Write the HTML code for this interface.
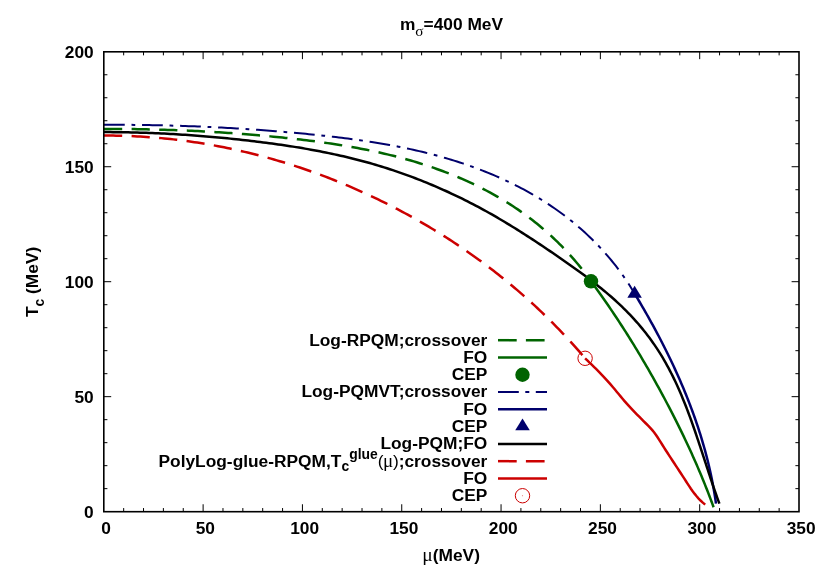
<!DOCTYPE html>
<html><head><meta charset="utf-8"><title>Tc vs mu</title>
<style>html,body{margin:0;padding:0;background:#fff;}svg{display:block;will-change:transform;}text{font-family:"Liberation Sans",sans-serif;font-weight:bold;font-size:17.33px;fill:#000;}.sym{font-family:"Liberation Serif",serif;font-weight:normal;}.s{font-size:13.9px;}</style>
</head><body>
<svg width="830" height="581" viewBox="0 0 830 581">
<rect x="0" y="0" width="830" height="581" fill="#ffffff"/>
<path d="M123.66,511.65V508.05M123.66,51.75V55.35M143.53,511.65V508.05M143.53,51.75V55.35M163.39,511.65V508.05M163.39,51.75V55.35M183.25,511.65V508.05M183.25,51.75V55.35M203.11,511.65V504.25M203.11,51.75V59.15M222.98,511.65V508.05M222.98,51.75V55.35M242.84,511.65V508.05M242.84,51.75V55.35M262.70,511.65V508.05M262.70,51.75V55.35M282.57,511.65V508.05M282.57,51.75V55.35M302.43,511.65V504.25M302.43,51.75V59.15M322.29,511.65V508.05M322.29,51.75V55.35M342.15,511.65V508.05M342.15,51.75V55.35M362.02,511.65V508.05M362.02,51.75V55.35M381.88,511.65V508.05M381.88,51.75V55.35M401.74,511.65V504.25M401.74,51.75V59.15M421.61,511.65V508.05M421.61,51.75V55.35M441.47,511.65V508.05M441.47,51.75V55.35M461.33,511.65V508.05M461.33,51.75V55.35M481.19,511.65V508.05M481.19,51.75V55.35M501.06,511.65V504.25M501.06,51.75V59.15M520.92,511.65V508.05M520.92,51.75V55.35M540.78,511.65V508.05M540.78,51.75V55.35M560.65,511.65V508.05M560.65,51.75V55.35M580.51,511.65V508.05M580.51,51.75V55.35M600.37,511.65V504.25M600.37,51.75V59.15M620.23,511.65V508.05M620.23,51.75V55.35M640.10,511.65V508.05M640.10,51.75V55.35M659.96,511.65V508.05M659.96,51.75V55.35M679.82,511.65V508.05M679.82,51.75V55.35M699.69,511.65V504.25M699.69,51.75V59.15M719.55,511.65V508.05M719.55,51.75V55.35M739.41,511.65V508.05M739.41,51.75V55.35M759.27,511.65V508.05M759.27,51.75V55.35M779.14,511.65V508.05M779.14,51.75V55.35M103.80,488.65H107.40M799.00,488.65H795.40M103.80,465.66H107.40M799.00,465.66H795.40M103.80,442.66H107.40M799.00,442.66H795.40M103.80,419.67H107.40M799.00,419.67H795.40M103.80,396.67H111.20M799.00,396.67H791.60M103.80,373.68H107.40M799.00,373.68H795.40M103.80,350.68H107.40M799.00,350.68H795.40M103.80,327.69H107.40M799.00,327.69H795.40M103.80,304.69H107.40M799.00,304.69H795.40M103.80,281.70H111.20M799.00,281.70H791.60M103.80,258.70H107.40M799.00,258.70H795.40M103.80,235.71H107.40M799.00,235.71H795.40M103.80,212.71H107.40M799.00,212.71H795.40M103.80,189.72H107.40M799.00,189.72H795.40M103.80,166.72H111.20M799.00,166.72H791.60M103.80,143.73H107.40M799.00,143.73H795.40M103.80,120.73H107.40M799.00,120.73H795.40M103.80,97.74H107.40M799.00,97.74H795.40M103.80,74.75H107.40M799.00,74.75H795.40" stroke="#000" stroke-width="1" fill="none"/>
<path d="M104.00,128.95 L107.04,128.94 L110.08,128.94 L113.12,128.95 L116.16,128.96 L119.19,128.97 L122.23,128.99 L125.26,129.02 L128.30,129.04 L131.33,129.08 L134.37,129.12 L137.40,129.16 L140.43,129.21 L143.46,129.26 L146.49,129.32 L149.52,129.39 L152.55,129.46 L155.58,129.53 L158.61,129.61 L161.63,129.69 L164.66,129.78 L167.69,129.88 L170.71,129.98 L173.74,130.09 L176.76,130.20 L179.79,130.31 L182.81,130.44 L185.83,130.56 L188.86,130.69 L191.88,130.83 L194.90,130.98 L197.92,131.12 L200.95,131.28 L203.97,131.44 L206.99,131.60 L210.01,131.77 L213.03,131.95 L216.05,132.13 L219.07,132.32 L222.09,132.51 L225.11,132.71 L228.13,132.91 L231.15,133.12 L234.17,133.34 L237.19,133.56 L240.21,133.79 L243.23,134.02 L246.25,134.26 L249.27,134.50 L252.29,134.75 L255.31,135.01 L258.32,135.27 L261.34,135.54 L264.36,135.81 L267.38,136.09 L270.40,136.38 L273.42,136.67 L276.44,136.97 L279.46,137.27 L282.48,137.58 L285.50,137.89 L288.52,138.22 L291.54,138.55 L294.56,138.88 L297.58,139.23 L300.60,139.58 L303.62,139.94 L306.64,140.30 L309.65,140.68 L312.67,141.06 L315.68,141.46 L318.70,141.86 L321.71,142.27 L324.72,142.70 L327.73,143.13 L330.73,143.57 L333.74,144.03 L336.74,144.50 L339.74,144.97 L342.74,145.46 L345.74,145.96 L348.73,146.47 L351.72,147.00 L354.71,147.54 L357.70,148.09 L360.68,148.65 L363.66,149.23 L366.64,149.82 L369.61,150.43 L372.58,151.05 L375.54,151.69 L378.51,152.34 L381.47,153.00 L384.42,153.69 L387.37,154.38 L390.32,155.10 L393.26,155.83 L396.20,156.57 L399.13,157.34 L402.06,158.12 L404.98,158.92 L407.90,159.74 L410.81,160.57 L413.72,161.42 L416.62,162.30 L419.52,163.19 L422.41,164.10 L425.30,165.03 L428.18,165.98 L431.05,166.95 L433.92,167.94 L436.78,168.95 L439.63,169.98 L442.48,171.03 L445.31,172.10 L448.14,173.19 L450.96,174.30 L453.77,175.44 L456.57,176.59 L459.37,177.77 L462.15,178.97 L464.92,180.19 L467.68,181.43 L470.43,182.69 L473.17,183.98 L475.90,185.29 L478.61,186.62 L481.32,187.97 L484.01,189.35 L486.69,190.75 L489.35,192.17 L492.01,193.62 L494.65,195.09 L497.27,196.58 L499.88,198.10 L502.48,199.64 L505.06,201.21 L507.62,202.80 L510.17,204.41 L512.71,206.05 L515.22,207.71 L517.73,209.40 L520.21,211.12 L522.68,212.86 L525.13,214.62 L527.56,216.41 L529.97,218.23 L532.37,220.06 L534.75,221.93 L537.11,223.82 L539.45,225.73 L541.77,227.67 L544.07,229.63 L546.35,231.62 L548.61,233.63 L550.85,235.67 L553.07,237.73 L555.27,239.81 L557.45,241.92 L559.61,244.05 L561.75,246.20 L563.86,248.38 L565.95,250.58 L568.02,252.81 L570.07,255.06 L572.09,257.33 L574.09,259.62 L576.07,261.94 L578.02,264.28 L579.95,266.64 L581.85,269.03 L583.73,271.44 L585.59,273.87 L587.42,276.33 L589.22,278.80 L591.00,281.30" stroke="#006400" stroke-width="2.50" fill="none" stroke-linejoin="round" stroke-dasharray="18.2,9.4"/>
<path d="M591.00,281.30 L592.82,283.77 L594.63,286.25 L596.43,288.74 L598.23,291.23 L600.01,293.73 L601.79,296.24 L603.55,298.75 L605.31,301.27 L607.06,303.79 L608.79,306.32 L610.52,308.86 L612.24,311.40 L613.96,313.95 L615.66,316.50 L617.35,319.06 L619.04,321.63 L620.72,324.20 L622.39,326.77 L624.05,329.36 L625.70,331.94 L627.34,334.54 L628.98,337.14 L630.60,339.74 L632.22,342.35 L633.83,344.96 L635.43,347.58 L637.03,350.21 L638.61,352.84 L640.19,355.47 L641.76,358.11 L643.32,360.76 L644.87,363.41 L646.42,366.06 L647.96,368.72 L649.49,371.38 L651.01,374.05 L652.52,376.73 L654.03,379.40 L655.53,382.09 L657.02,384.77 L658.50,387.47 L659.98,390.16 L661.44,392.86 L662.91,395.57 L664.36,398.28 L665.80,400.99 L667.24,403.71 L668.67,406.43 L670.09,409.15 L671.50,411.88 L672.91,414.62 L674.30,417.36 L675.69,420.10 L677.07,422.85 L678.44,425.60 L679.80,428.36 L681.15,431.12 L682.49,433.88 L683.82,436.65 L685.14,439.42 L686.45,442.20 L687.75,444.98 L689.05,447.76 L690.33,450.55 L691.60,453.35 L692.86,456.14 L694.11,458.95 L695.35,461.75 L696.58,464.56 L697.79,467.38 L699.00,470.19 L700.20,473.02 L701.38,475.84 L702.55,478.67 L703.71,481.51 L704.86,484.35 L705.99,487.19 L707.12,490.04 L708.23,492.89 L709.33,495.74 L710.42,498.60 L711.49,501.46 L712.55,504.33 L713.60,507.20" stroke="#006400" stroke-width="2.50" fill="none" stroke-linejoin="round"/>
<path d="M104.00,124.76 L107.02,124.75 L110.04,124.75 L113.06,124.75 L116.09,124.76 L119.11,124.77 L122.13,124.78 L125.15,124.80 L128.16,124.82 L131.18,124.85 L134.20,124.88 L137.22,124.91 L140.24,124.95 L143.25,124.99 L146.27,125.04 L149.29,125.09 L152.30,125.15 L155.32,125.20 L158.34,125.27 L161.35,125.34 L164.37,125.41 L167.38,125.48 L170.39,125.56 L173.41,125.65 L176.42,125.73 L179.43,125.83 L182.45,125.93 L185.46,126.03 L188.47,126.13 L191.48,126.24 L194.50,126.36 L197.51,126.48 L200.52,126.60 L203.53,126.73 L206.54,126.86 L209.55,127.00 L212.56,127.14 L215.57,127.29 L218.58,127.44 L221.59,127.59 L224.60,127.75 L227.61,127.92 L230.62,128.08 L233.63,128.26 L236.64,128.44 L239.64,128.62 L242.65,128.81 L245.66,129.00 L248.67,129.20 L251.68,129.40 L254.68,129.60 L257.69,129.82 L260.70,130.03 L263.70,130.25 L266.71,130.48 L269.72,130.71 L272.72,130.95 L275.73,131.19 L278.74,131.43 L281.74,131.68 L284.75,131.94 L287.75,132.20 L290.76,132.46 L293.76,132.73 L296.77,133.01 L299.77,133.29 L302.78,133.57 L305.78,133.86 L308.79,134.16 L311.79,134.46 L314.80,134.77 L317.80,135.08 L320.81,135.40 L323.81,135.72 L326.81,136.05 L329.82,136.39 L332.82,136.73 L335.82,137.08 L338.82,137.44 L341.82,137.81 L344.82,138.18 L347.81,138.57 L350.81,138.96 L353.80,139.36 L356.80,139.77 L359.79,140.19 L362.78,140.63 L365.77,141.07 L368.75,141.52 L371.74,141.98 L374.72,142.46 L377.70,142.94 L380.68,143.44 L383.65,143.95 L386.62,144.48 L389.59,145.01 L392.56,145.56 L395.53,146.12 L398.49,146.70 L401.45,147.29 L404.40,147.89 L407.36,148.51 L410.31,149.14 L413.25,149.79 L416.20,150.46 L419.14,151.14 L422.07,151.83 L425.01,152.55 L427.93,153.28 L430.86,154.02 L433.78,154.79 L436.70,155.57 L439.61,156.36 L442.52,157.18 L445.42,158.02 L448.32,158.87 L451.22,159.74 L454.10,160.63 L456.99,161.55 L459.86,162.47 L462.74,163.42 L465.60,164.39 L468.46,165.38 L471.31,166.39 L474.15,167.41 L476.98,168.46 L479.81,169.53 L482.63,170.62 L485.44,171.73 L488.24,172.85 L491.03,174.00 L493.81,175.18 L496.58,176.37 L499.34,177.58 L502.09,178.82 L504.83,180.07 L507.56,181.35 L510.28,182.65 L512.98,183.97 L515.67,185.32 L518.35,186.68 L521.02,188.07 L523.68,189.49 L526.32,190.92 L528.95,192.38 L531.56,193.86 L534.16,195.36 L536.75,196.89 L539.32,198.44 L541.87,200.02 L544.41,201.62 L546.94,203.24 L549.45,204.89 L551.94,206.56 L554.41,208.26 L556.87,209.98 L559.31,211.72 L561.74,213.49 L564.14,215.29 L566.53,217.11 L568.90,218.95 L571.25,220.82 L573.58,222.72 L575.89,224.64 L578.18,226.58 L580.46,228.55 L582.71,230.55 L584.94,232.56 L587.15,234.61 L589.33,236.67 L591.50,238.76 L593.64,240.88 L595.76,243.02 L597.86,245.18 L599.94,247.37 L601.99,249.58 L604.01,251.82 L606.02,254.07 L608.00,256.36 L609.95,258.66 L611.88,260.99 L613.78,263.35 L615.66,265.72 L617.51,268.12 L619.33,270.55 L621.13,272.99 L622.90,275.46 L624.64,277.96 L626.36,280.47 L628.04,283.01 L629.70,285.58 L631.33,288.16 L632.93,290.77 L634.50,293.40" stroke="#00006c" stroke-width="2.00" fill="none" stroke-linejoin="round" stroke-dasharray="20.75,6.75,3.75,6.8"/>
<path d="M634.50,293.40 L636.07,296.01 L637.64,298.63 L639.20,301.26 L640.74,303.89 L642.29,306.53 L643.82,309.18 L645.34,311.84 L646.86,314.50 L648.37,317.17 L649.86,319.84 L651.35,322.52 L652.83,325.21 L654.30,327.91 L655.76,330.61 L657.20,333.32 L658.64,336.04 L660.07,338.76 L661.48,341.49 L662.89,344.22 L664.28,346.97 L665.66,349.71 L667.03,352.47 L668.38,355.23 L669.73,358.00 L671.06,360.77 L672.38,363.55 L673.68,366.34 L674.97,369.13 L676.25,371.93 L677.52,374.74 L678.77,377.55 L680.00,380.36 L681.22,383.19 L682.43,386.02 L683.62,388.85 L684.80,391.69 L685.96,394.54 L687.10,397.39 L688.23,400.25 L689.35,403.11 L690.44,405.98 L691.53,408.86 L692.59,411.74 L693.64,414.62 L694.67,417.52 L695.68,420.41 L696.67,423.32 L697.65,426.22 L698.61,429.14 L699.55,432.06 L700.47,434.98 L701.37,437.91 L702.25,440.84 L703.12,443.78 L703.96,446.73 L704.79,449.68 L705.59,452.63 L706.38,455.59 L707.14,458.56 L707.89,461.53 L708.61,464.50 L709.31,467.48 L709.99,470.47 L710.65,473.45 L711.29,476.45 L711.90,479.45 L712.49,482.45 L713.06,485.46 L713.61,488.47 L714.14,491.49 L714.64,494.51 L715.12,497.53 L715.57,500.57 L716.00,503.60" stroke="#00006c" stroke-width="2.50" fill="none" stroke-linejoin="round"/>
<path d="M104.00,132.10 L107.02,132.11 L110.04,132.12 L113.06,132.14 L116.08,132.17 L119.10,132.20 L122.12,132.25 L125.14,132.30 L128.15,132.35 L131.16,132.42 L134.18,132.49 L137.19,132.57 L140.20,132.66 L143.21,132.75 L146.22,132.86 L149.23,132.97 L152.24,133.08 L155.24,133.21 L158.25,133.34 L161.26,133.48 L164.26,133.62 L167.26,133.78 L170.27,133.94 L173.27,134.10 L176.27,134.28 L179.27,134.46 L182.27,134.65 L185.27,134.84 L188.27,135.05 L191.27,135.26 L194.27,135.47 L197.27,135.70 L200.27,135.93 L203.27,136.17 L206.26,136.41 L209.26,136.67 L212.26,136.92 L215.25,137.19 L218.25,137.46 L221.25,137.74 L224.24,138.03 L227.24,138.33 L230.23,138.63 L233.23,138.93 L236.22,139.25 L239.22,139.57 L242.21,139.90 L245.21,140.23 L248.20,140.57 L251.20,140.92 L254.19,141.28 L257.18,141.64 L260.18,142.01 L263.17,142.39 L266.17,142.77 L269.16,143.17 L272.15,143.57 L275.14,143.98 L278.13,144.40 L281.12,144.83 L284.11,145.27 L287.09,145.71 L290.08,146.17 L293.06,146.64 L296.04,147.11 L299.02,147.60 L302.00,148.10 L304.98,148.61 L307.95,149.13 L310.92,149.66 L313.89,150.20 L316.86,150.76 L319.82,151.33 L322.78,151.91 L325.74,152.50 L328.69,153.10 L331.64,153.72 L334.59,154.35 L337.54,155.00 L340.48,155.66 L343.42,156.33 L346.35,157.02 L349.28,157.72 L352.21,158.44 L355.13,159.17 L358.05,159.92 L360.96,160.68 L363.87,161.46 L366.78,162.26 L369.68,163.07 L372.57,163.89 L375.46,164.74 L378.35,165.60 L381.23,166.48 L384.10,167.37 L386.97,168.28 L389.84,169.20 L392.70,170.14 L395.55,171.10 L398.40,172.08 L401.24,173.06 L404.08,174.07 L406.91,175.09 L409.74,176.13 L412.55,177.18 L415.37,178.25 L418.18,179.33 L420.98,180.43 L423.77,181.54 L426.56,182.67 L429.34,183.82 L432.12,184.98 L434.89,186.15 L437.65,187.34 L440.41,188.55 L443.16,189.77 L445.90,191.00 L448.64,192.25 L451.36,193.52 L454.09,194.80 L456.80,196.09 L459.51,197.40 L462.21,198.72 L464.90,200.06 L467.59,201.41 L470.26,202.78 L472.93,204.16 L475.60,205.55 L478.25,206.96 L480.90,208.38 L483.54,209.82 L486.17,211.27 L488.79,212.73 L491.41,214.21 L494.02,215.70 L496.62,217.20 L499.21,218.71 L501.80,220.24 L504.39,221.78 L506.96,223.32 L509.54,224.88 L512.10,226.46 L514.66,228.04 L517.21,229.63 L519.76,231.23 L522.31,232.84 L524.85,234.46 L527.38,236.09 L529.91,237.73 L532.44,239.38 L534.96,241.03 L537.48,242.69 L539.99,244.36 L542.50,246.04 L545.01,247.73 L547.52,249.42 L550.02,251.12 L552.52,252.82 L555.01,254.53 L557.51,256.25 L560.00,257.97 L562.49,259.70 L564.98,261.43 L567.46,263.17 L569.94,264.92 L572.41,266.67 L574.88,268.43 L577.34,270.20 L579.80,271.99 L582.24,273.78 L584.68,275.58 L587.10,277.39 L589.52,279.22 L591.92,281.06 L594.31,282.91 L596.69,284.78 L599.05,286.66 L601.40,288.56 L603.73,290.47 L606.04,292.40 L608.34,294.35 L610.62,296.31 L612.88,298.30 L615.12,300.30 L617.34,302.33 L619.54,304.37 L621.72,306.44 L623.87,308.53 L626.00,310.64 L628.10,312.77 L630.18,314.93 L632.23,317.11 L634.26,319.32 L636.25,321.55 L638.22,323.80 L640.17,326.08 L642.08,328.38 L643.97,330.71 L645.82,333.05 L647.65,335.42 L649.45,337.82 L651.22,340.23 L652.95,342.67 L654.66,345.12 L656.33,347.60 L657.98,350.10 L659.59,352.62 L661.17,355.16 L662.71,357.72 L664.23,360.31 L665.71,362.91 L667.17,365.52 L668.60,368.16 L669.99,370.81 L671.37,373.48 L672.71,376.17 L674.03,378.87 L675.33,381.58 L676.60,384.31 L677.84,387.05 L679.07,389.81 L680.27,392.58 L681.46,395.36 L682.62,398.15 L683.77,400.95 L684.90,403.76 L686.01,406.58 L687.10,409.41 L688.18,412.24 L689.24,415.09 L690.29,417.94 L691.33,420.80 L692.35,423.66 L693.36,426.53 L694.36,429.40 L695.36,432.27 L696.34,435.15 L697.31,438.03 L698.28,440.92 L699.24,443.80 L700.20,446.69 L701.15,449.57 L702.10,452.46 L703.04,455.34 L703.98,458.22 L704.92,461.10 L705.86,463.98 L706.80,466.85 L707.74,469.72 L708.68,472.58 L709.63,475.44 L710.58,478.29 L711.53,481.14 L712.49,483.98 L713.45,486.81 L714.42,489.63 L715.40,492.45 L716.38,495.25 L717.38,498.05 L718.38,500.83 L719.40,503.60" stroke="#000000" stroke-width="2.50" fill="none" stroke-linejoin="round"/>
<path d="M104.00,135.60 L107.03,135.59 L110.06,135.60 L113.09,135.62 L116.11,135.66 L119.14,135.71 L122.17,135.79 L125.19,135.87 L128.21,135.97 L131.24,136.09 L134.26,136.23 L137.28,136.38 L140.29,136.54 L143.31,136.72 L146.33,136.92 L149.34,137.13 L152.35,137.36 L155.37,137.60 L158.38,137.86 L161.38,138.13 L164.39,138.42 L167.39,138.72 L170.40,139.04 L173.40,139.38 L176.40,139.73 L179.39,140.09 L182.39,140.47 L185.38,140.87 L188.37,141.28 L191.36,141.70 L194.34,142.14 L197.33,142.59 L200.31,143.06 L203.29,143.55 L206.26,144.05 L209.24,144.56 L212.21,145.09 L215.18,145.63 L218.14,146.19 L221.11,146.76 L224.06,147.35 L227.02,147.95 L229.98,148.56 L232.93,149.19 L235.88,149.84 L238.82,150.50 L241.76,151.17 L244.70,151.85 L247.64,152.56 L250.57,153.27 L253.50,154.00 L256.42,154.74 L259.34,155.50 L262.26,156.27 L265.17,157.06 L268.09,157.86 L270.99,158.67 L273.90,159.50 L276.79,160.34 L279.69,161.19 L282.58,162.06 L285.47,162.94 L288.35,163.84 L291.23,164.75 L294.11,165.67 L296.98,166.61 L299.84,167.56 L302.71,168.52 L305.56,169.50 L308.42,170.49 L311.27,171.49 L314.11,172.50 L316.95,173.53 L319.78,174.58 L322.62,175.63 L325.44,176.70 L328.26,177.78 L331.08,178.88 L333.89,179.99 L336.69,181.11 L339.49,182.24 L342.29,183.39 L345.08,184.55 L347.87,185.72 L350.65,186.91 L353.42,188.10 L356.19,189.31 L358.95,190.54 L361.71,191.77 L364.46,193.02 L367.21,194.28 L369.95,195.56 L372.69,196.84 L375.42,198.14 L378.14,199.45 L380.86,200.77 L383.57,202.11 L386.28,203.46 L388.98,204.82 L391.67,206.19 L394.36,207.57 L397.04,208.97 L399.71,210.38 L402.38,211.80 L405.05,213.23 L407.70,214.67 L410.35,216.13 L412.99,217.60 L415.63,219.08 L418.26,220.57 L420.88,222.08 L423.49,223.59 L426.10,225.12 L428.70,226.66 L431.29,228.22 L433.88,229.78 L436.46,231.36 L439.03,232.94 L441.59,234.54 L444.15,236.16 L446.70,237.78 L449.24,239.41 L451.77,241.06 L454.30,242.72 L456.81,244.39 L459.32,246.07 L461.83,247.77 L464.32,249.47 L466.80,251.19 L469.28,252.92 L471.75,254.66 L474.21,256.41 L476.66,258.17 L479.11,259.95 L481.54,261.74 L483.97,263.53 L486.39,265.34 L488.80,267.16 L491.20,269.00 L493.59,270.84 L495.97,272.69 L498.34,274.56 L500.71,276.44 L503.06,278.33 L505.41,280.23 L507.75,282.14 L510.07,284.06 L512.39,286.00 L514.70,287.94 L517.00,289.90 L519.29,291.87 L521.57,293.85 L523.84,295.84 L526.10,297.84 L528.35,299.85 L530.59,301.87 L532.82,303.91 L535.04,305.95 L537.25,308.01 L539.45,310.08 L541.63,312.15 L543.81,314.24 L545.98,316.34 L548.14,318.45 L550.29,320.58 L552.42,322.71 L554.55,324.85 L556.66,327.01 L558.77,329.17 L560.86,331.35 L562.94,333.54 L565.01,335.73 L567.07,337.94 L569.12,340.16 L571.16,342.39 L573.19,344.63 L575.20,346.88 L577.20,349.15 L579.20,351.42 L581.18,353.70 L583.14,356.00 L585.10,358.30" stroke="#cc0000" stroke-width="2.50" fill="none" stroke-linejoin="round" stroke-dasharray="18.2,9.4"/>
<path d="M585.10,358.30 L587.31,360.42 L589.51,362.54 L591.71,364.68 L593.91,366.82 L596.09,368.97 L598.26,371.14 L600.41,373.33 L602.54,375.54 L604.64,377.77 L606.72,380.03 L608.76,382.32 L610.77,384.63 L612.76,386.97 L614.73,389.32 L616.68,391.68 L618.64,394.05 L620.59,396.40 L622.56,398.75 L624.54,401.09 L626.56,403.40 L628.60,405.68 L630.67,407.93 L632.78,410.16 L634.90,412.37 L637.04,414.56 L639.20,416.74 L641.37,418.91 L643.54,421.07 L645.72,423.24 L647.89,425.41 L650.02,427.62 L652.07,429.88 L654.03,432.23 L655.84,434.68 L657.55,437.22 L659.20,439.82 L660.82,442.43 L662.45,445.03 L664.09,447.62 L665.74,450.21 L667.40,452.78 L669.07,455.35 L670.74,457.92 L672.42,460.48 L674.10,463.04 L675.79,465.60 L677.47,468.16 L679.15,470.72 L680.83,473.28 L682.51,475.85 L684.18,478.43 L685.84,481.01 L687.51,483.59 L689.19,486.15 L690.90,488.70 L692.67,491.20 L694.50,493.65 L696.41,496.03 L698.42,498.33 L700.54,500.53 L702.80,502.63 L705.20,504.60" stroke="#cc0000" stroke-width="2.50" fill="none" stroke-linejoin="round"/>
<circle cx="591.0" cy="281.3" r="7.2" fill="#006400"/>
<path d="M634.60,285.85 L627.35,297.65 L641.85,297.65 Z" fill="#00006c"/>
<circle cx="585.1" cy="358.3" r="7.2" fill="none" stroke="#cc0000" stroke-width="1"/>
<rect x="103.8" y="51.8" width="695.2" height="459.9" fill="none" stroke="#000" stroke-width="1.6"/>
<text x="106.00" y="534.4" text-anchor="middle">0</text>
<text x="205.31" y="534.4" text-anchor="middle">50</text>
<text x="304.63" y="534.4" text-anchor="middle">100</text>
<text x="403.94" y="534.4" text-anchor="middle">150</text>
<text x="503.26" y="534.4" text-anchor="middle">200</text>
<text x="602.57" y="534.4" text-anchor="middle">250</text>
<text x="701.89" y="534.4" text-anchor="middle">300</text>
<text x="801.20" y="534.4" text-anchor="middle">350</text>
<text x="93.7" y="517.75" text-anchor="end">0</text>
<text x="93.7" y="402.77" text-anchor="end">50</text>
<text x="93.7" y="287.80" text-anchor="end">100</text>
<text x="93.7" y="172.82" text-anchor="end">150</text>
<text x="93.7" y="57.85" text-anchor="end">200</text>
<text x="399.9" y="30.2">m<tspan class="sym" font-size="15.3px" dy="5.3">σ</tspan><tspan dy="-5.3">=400 MeV</tspan></text>
<text x="422.3" y="560.7"><tspan class="sym" font-size="19.5px">μ</tspan>(MeV)</text>
<text transform="translate(38.4,317.1) rotate(-90)" x="0" y="0">T<tspan class="s" dy="5.8">c</tspan><tspan dy="-5.8"> (MeV)</tspan></text>
<text x="487.3" y="345.60" text-anchor="end">Log-RPQM;crossover</text>
<path d="M498.0,340.20H547.0" stroke="#006400" stroke-width="2.50" fill="none" stroke-dasharray="18.7,9.2"/>
<text x="487.3" y="362.88" text-anchor="end">FO</text>
<path d="M498.0,357.48H547.0" stroke="#006400" stroke-width="2.50" fill="none"/>
<text x="487.3" y="380.16" text-anchor="end">CEP</text>
<circle cx="522.5" cy="374.76" r="7.2" fill="#006400"/>
<text x="487.3" y="397.44" text-anchor="end">Log-PQMVT;crossover</text>
<path d="M498.0,392.04H547.0" stroke="#00006c" stroke-width="2.00" fill="none" stroke-dasharray="20.8,6.5,4.0,6.5"/>
<text x="487.3" y="414.72" text-anchor="end">FO</text>
<path d="M498.0,409.32H547.0" stroke="#00006c" stroke-width="2.50" fill="none"/>
<text x="487.3" y="432.00" text-anchor="end">CEP</text>
<path d="M522.50,418.50 L515.25,430.30 L529.75,430.30 Z" fill="#00006c"/>
<text x="487.3" y="449.28" text-anchor="end">Log-PQM;FO</text>
<path d="M498.0,443.88H547.0" stroke="#000000" stroke-width="2.50" fill="none"/>
<text x="487.3" y="466.56" text-anchor="end">PolyLog-glue-RPQM,T<tspan class="s" dy="4.8">c</tspan><tspan class="s" dy="-12.8">glue</tspan><tspan dy="8" font-weight="normal">(</tspan><tspan class="sym" font-size="19px" dx="-0.4">μ</tspan><tspan font-weight="normal" dx="-0.4">)</tspan>;crossover</text>
<path d="M498.0,461.16H547.0" stroke="#cc0000" stroke-width="2.50" fill="none" stroke-dasharray="18.7,9.2"/>
<text x="487.3" y="483.84" text-anchor="end">FO</text>
<path d="M498.0,478.44H547.0" stroke="#cc0000" stroke-width="2.50" fill="none"/>
<text x="487.3" y="501.12" text-anchor="end">CEP</text>
<circle cx="522.5" cy="495.72" r="7.2" fill="none" stroke="#cc0000" stroke-width="1"/>
<circle cx="522.5" cy="495.72" r="0.6" fill="#cc0000" opacity="0.45"/>
</svg></body></html>
